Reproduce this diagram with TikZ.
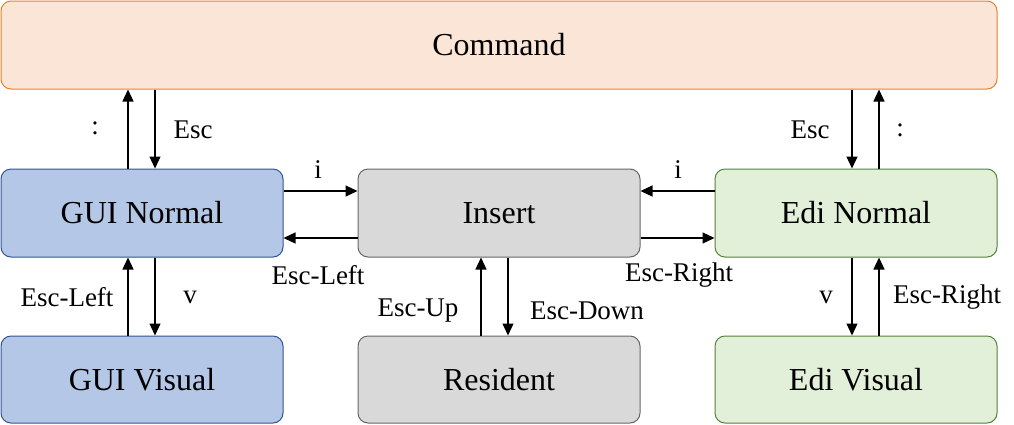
\documentclass[tikz,border=0pt]{standalone}
\usepackage{fontspec}
\setmainfont{Liberation Serif}
\usetikzlibrary{arrows.meta,calc}
\definecolor{cmdfill}{HTML}{FBE5D6}
\definecolor{cmddraw}{HTML}{ED7D31}
\definecolor{guifill}{HTML}{B4C7E7}
\definecolor{guidraw}{HTML}{2F5597}
\definecolor{insfill}{HTML}{D9D9D9}
\definecolor{insdraw}{HTML}{666666}
\definecolor{edifill}{HTML}{E2F0D9}
\definecolor{edidraw}{HTML}{548235}
\begin{document}
\begin{tikzpicture}[x=1pt,y=-1pt,
  box/.style={draw, rounded corners=10pt, line width=1pt, minimum height=88pt, minimum width=282pt, inner sep=0pt, font=\fontsize{32}{38}\selectfont},
  cmdbox/.style={box, fill=cmdfill, draw=cmddraw},
  guibox/.style={box, fill=guifill, draw=guidraw},
  insbox/.style={box, fill=insfill, draw=insdraw},
  edibox/.style={box, fill=edifill, draw=edidraw},
  arr/.style={-{Triangle[length=12pt,width=11pt]}, line width=1.2pt},
  lbl/.style={font=\fontsize{27}{32}\selectfont, inner sep=0pt}]
\useasboundingbox (0,0) rectangle (1014,424);
\node[cmdbox, minimum width=996pt] (cmd) at (499,45) {Command};
\node[guibox] (gn) at (142,213) {GUI Normal};
\node[insbox] (ins) at (499,213) {Insert};
\node[edibox] (en) at (856,213) {Edi Normal};
\node[guibox, minimum height=87pt] (gv) at (142,379.5) {GUI Visual};
\node[insbox, minimum height=87pt] (res) at (499,379.5) {Resident};
\node[edibox, minimum height=87pt] (ev) at (856,379.5) {Edi Visual};
% anchor points
\coordinate (gnA) at ($(gn.north)+(-14,0)$);
\coordinate (gnB) at ($(gn.north)+(13,0)$);
\coordinate (enA) at ($(en.north)+(-4,0)$);
\coordinate (enB) at ($(en.north)+(23,0)$);
\coordinate (gnR1) at ($(gn.east)+(0,-22)$);
\coordinate (gnR2) at ($(gn.east)+(0,25)$);
\coordinate (enL1) at ($(en.west)+(0,-22)$);
\coordinate (enL2) at ($(en.west)+(0,25)$);
\coordinate (gvA) at ($(gv.north)+(-14,0)$);
\coordinate (gvB) at ($(gv.north)+(13,0)$);
\coordinate (resA) at ($(res.north)+(-18,0)$);
\coordinate (resB) at ($(res.north)+(9,0)$);
\coordinate (evA) at ($(ev.north)+(-4,0)$);
\coordinate (evB) at ($(ev.north)+(23,0)$);
% GUI <-> Command
\draw[arr] (gnA) -- (gnA |- cmd.south);
\draw[arr] (gnB |- cmd.south) -- (gnB);
% Edi <-> Command
\draw[arr] (enA |- cmd.south) -- (enA);
\draw[arr] (enB) -- (enB |- cmd.south);
% GUI <-> Insert
\draw[arr] (gnR1) -- (gnR1 -| ins.west);
\draw[arr] (gnR2 -| ins.west) -- (gnR2);
% Edi <-> Insert
\draw[arr] (enL1) -- (enL1 -| ins.east);
\draw[arr] (enL2 -| ins.east) -- (enL2);
% GUI Normal <-> GUI Visual
\draw[arr] (gvA) -- (gvA |- gn.south);
\draw[arr] (gvB |- gn.south) -- (gvB);
% Insert <-> Resident
\draw[arr] (resA) -- (resA |- ins.south);
\draw[arr] (resB |- ins.south) -- (resB);
% Edi Normal <-> Edi Visual
\draw[arr] (evA |- en.south) -- (evA);
\draw[arr] (evB) -- (evB |- en.south);
% labels
\node[lbl] (l1) at (95,128) {:};
\node[lbl] (l2) at (193,130) {Esc};
\node[lbl] (l3) at (318,170) {i};
\node[lbl] (l4) at (318,275) {Esc-Left};
\node[lbl] (l5) at (678,170) {i};
\node[lbl] (l6) at (679,275) {Esc-Right};
\node[lbl] (l7) at (810,130) {Esc};
\node[lbl] (l8) at (900,130) {:};
\node[lbl] (l9) at (67,297) {Esc-Left};
\node[lbl] (l10) at (190,297) {v};
\node[lbl] (l11) at (418,311) {Esc-Up};
\node[lbl] (l12) at (587,311) {Esc-Down};
\node[lbl] (l13) at (826,297) {v};
\node[lbl] (l14) at (947,297) {Esc-Right};
\end{tikzpicture}
\end{document}
